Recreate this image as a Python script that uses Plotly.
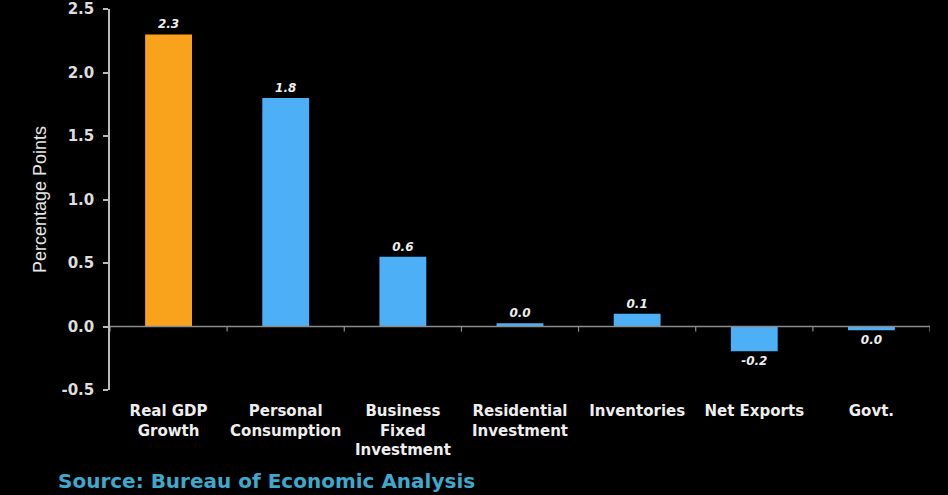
import plotly.graph_objects as go

categories = ["Real GDP<br>Growth", "Personal<br>Consumption", "Business<br>Fixed<br>Investment",
              "Residential<br>Investment", "Inventories", "Net Exports", "Govt."]
values = [2.30, 1.80, 0.55, 0.025, 0.10, -0.195, -0.03]
value_labels = ["2.3", "1.8", "0.6", "0.0", "0.1", "-0.2", "0.0"]
y_ticks = [-0.5, 0.0, 0.5, 1.0, 1.5, 2.0, 2.5]
y_tick_labels = ["-0.5", "0.0", "0.5", "1.0", "1.5", "2.0", "2.5"]

colors = ["#F8A31B"] + ["#4DAFF6"] * (len(categories) - 1)

fig = go.Figure()
fig.add_trace(go.Bar(
    x=list(range(len(categories))), y=values,
    marker=dict(color=colors, line=dict(width=0)),
    text=value_labels, textposition="outside", cliponaxis=False,
    textfont=dict(family="DejaVu Sans", size=12, color="#EEEEEE", weight="bold", style="italic"),
    hoverinfo="skip",
))

# zero line with category boundary ticks
n = len(categories)
fig.add_shape(type="line", xref="x", yref="y", x0=-0.5, x1=n - 0.5, y0=0, y1=0,
              line=dict(color="#8C8C8C", width=1.5))
for b in range(n + 1):
    fig.add_shape(type="line", xref="x", yref="y", x0=b - 0.5, x1=b - 0.5, y0=0, y1=-0.04,
                  line=dict(color="#8C8C8C", width=1.2))

fig.update_layout(
    width=948, height=495,
    paper_bgcolor="black", plot_bgcolor="black",
    margin=dict(l=110, r=18, t=9, b=105),
    bargap=0.6, showlegend=False,
    xaxis=dict(
        tickmode="array", tickvals=list(range(n)), ticktext=categories,
        range=[-0.5, n - 0.5], showgrid=False, zeroline=False, showline=False, ticks="",
        tickfont=dict(family="DejaVu Sans", size=15, color="#EEEEEE", weight="bold"),
        ticklabelstandoff=10, automargin=False,
    ),
    yaxis=dict(
        range=[-0.5, 2.5], tickmode="array", tickvals=y_ticks, ticktext=y_tick_labels,
        showgrid=False, zeroline=False, showline=True, linecolor="#BBBBBB", linewidth=1.5,
        ticks="outside", ticklen=5, tickcolor="#BBBBBB", tickwidth=1.5,
        tickfont=dict(family="DejaVu Sans", size=15, color="#DDDDDD", weight="bold"),
        ticklabelstandoff=6, automargin=False,
        title=dict(text="Percentage Points", standoff=10,
                   font=dict(family="Liberation Sans", size=18, color="#E6E6E6")),
    ),
    annotations=[dict(
        text="Source: Bureau of Economic Analysis", xref="paper", yref="paper",
        x=-0.066, y=-0.24, xanchor="left", yanchor="middle", showarrow=False,
        font=dict(family="DejaVu Sans", size=20, color="#3FA8CC", weight="bold"),
    )],
)

fig.write_html("out.html", config={"displayModeBar": False},
               post_script="document.body.style.margin='0';document.body.style.overflow='hidden';")
